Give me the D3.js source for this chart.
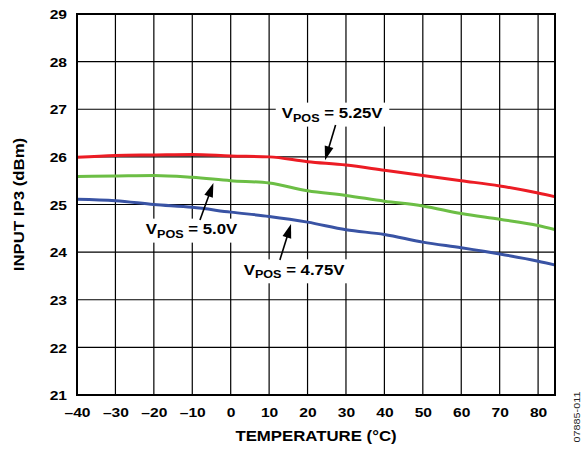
<!DOCTYPE html>
<html><head><meta charset="utf-8">
<script src="https://cdn.jsdelivr.net/npm/d3@7/dist/d3.min.js"></script>
<style>
html,body{margin:0;padding:0;background:#fff;}
svg{display:block;}
text{font-family:"Liberation Sans",Arial,Helvetica,sans-serif;}
</style></head>
<body>
<script>
// ---- data ----
const temps = [-40, -30, -20, -10, 0, 10, 20, 30, 40, 50, 60, 70, 80, 85];
const vpos525 = [25.99, 26.03, 26.04, 26.05, 26.02, 26.00, 25.90, 25.83, 25.72, 25.61, 25.50, 25.39, 25.24, 25.15];
const vpos500 = [25.59, 25.60, 25.61, 25.57, 25.50, 25.45, 25.29, 25.19, 25.07, 24.97, 24.81, 24.69, 24.56, 24.46];
const vpos475 = [25.11, 25.08, 25.00, 24.94, 24.84, 24.75, 24.63, 24.47, 24.37, 24.21, 24.09, 23.96, 23.81, 23.72];
const seriesNames = ["5.25V", "5.0V", "4.75V"];
const xTickValues = [-40, -30, -20, -10, 0, 10, 20, 30, 40, 50, 60, 70, 80];
const xTickLabels = ["–40", "–30", "–20", "–10", "0", "10", "20", "30", "40", "50", "60", "70", "80"];
const yTickValues = [21, 22, 23, 24, 25, 26, 27, 28, 29];
const xTitle = "TEMPERATURE (°C)";
const yTitle = "INPUT IP3 (dBm)";
const figId = "07885-011";

// ---- layout ----
const W = 587, H = 449;
const X0 = 77, X1 = 555, Y0 = 14, Y1 = 395;
const SX = 1.2; // horizontal glyph stretch
const FONT = '"Liberation Sans",Arial,Helvetica,sans-serif';

const x = d3.scaleLinear().domain([-40, 84.4]).range([X0, X1]);
const y = d3.scaleLinear().domain([21, 29]).range([Y1, Y0]);

const svg = d3.select("body").append("svg").attr("width", W).attr("height", H);

// clip
svg.append("defs").append("clipPath").attr("id", "plot")
  .append("rect").attr("x", X0).attr("y", Y0).attr("width", X1 - X0).attr("height", Y1 - Y0);

// grid
const grid = svg.append("g").attr("stroke", "#000").attr("stroke-width", 1.2);
grid.selectAll("line.v").data(xTickValues.filter(d => d > -40)).join("line")
  .attr("x1", d => x(d)).attr("x2", d => x(d)).attr("y1", Y0).attr("y2", Y1);
grid.selectAll("line.h").data(yTickValues.filter(d => d > 21 && d < 29)).join("line")
  .attr("x1", X0).attr("x2", X1).attr("y1", d => y(d)).attr("y2", d => y(d));

// series
const series = [
  {name: seriesNames[0], vals: vpos525, color: "#ec1c24"},
  {name: seriesNames[1], vals: vpos500, color: "#6cbe45"},
  {name: seriesNames[2], vals: vpos475, color: "#3953a4"}
];
const line = d3.line().x(d => x(d[0])).y(d => y(d[1])).curve(d3.curveMonotoneX);
svg.append("g").attr("clip-path", "url(#plot)")
  .selectAll("path").data(series).join("path")
  .attr("fill", "none").attr("stroke", d => d.color).attr("stroke-width", 3)
  .attr("stroke-linejoin", "round")
  .attr("d", d => line(temps.map((t, i) => [t, d.vals[i]])));

// frame
svg.append("rect").attr("x", X0).attr("y", Y0).attr("width", X1 - X0).attr("height", Y1 - Y0)
  .attr("fill", "none").attr("stroke", "#000").attr("stroke-width", 2);

// x axis
const gx = svg.append("g").attr("transform", `translate(0,${Y1})`)
  .call(d3.axisBottom(x).tickValues(xTickValues).tickSize(0).tickFormat((d, i) => xTickLabels[i]));
gx.select(".domain").remove();
gx.selectAll("text").attr("y", 0).attr("dy", 0)
  .attr("transform", `translate(0,22) scale(${SX},1)`)
  .attr("font-size", 13).attr("font-weight", "bold").attr("fill", "#000").attr("font-family", FONT);

// y axis
const gy = svg.append("g").attr("transform", `translate(${X0},0)`)
  .call(d3.axisLeft(y).tickValues(yTickValues).tickSize(0).tickFormat(d3.format("d")));
gy.select(".domain").remove();
gy.selectAll("text").attr("x", 0).attr("dy", "0.36em")
  .attr("transform", `translate(-10,0) scale(${SX},1)`)
  .attr("font-size", 13).attr("font-weight", "bold").attr("fill", "#000").attr("font-family", FONT);

// titles
svg.append("text").attr("transform", `translate(${(X0 + X1) / 2},441) scale(${SX},1)`)
  .attr("text-anchor", "middle").attr("font-size", 14).attr("font-weight", "bold").text(xTitle);
svg.append("text").attr("transform", `translate(23.5,${(Y0 + Y1) / 2}) rotate(-90) scale(${SX},1)`)
  .attr("text-anchor", "middle").attr("font-size", 14).attr("font-weight", "bold").text(yTitle);
svg.append("text").attr("transform", `translate(580,417) rotate(-90) scale(${SX},1)`)
  .attr("text-anchor", "middle").attr("font-size", 9).attr("fill", "#222").text(figId);

// annotations (anchors in data units)
const notes = [
  {label: seriesNames[0], at: [26.4, 26.81], tail: [27.3, 26.67], tip: [24.55, 25.93]},
  {label: seriesNames[1], at: [-10.2, 24.374], tail: [-8.0, 24.675], tip: [-4.5, 25.45]},
  {label: seriesNames[2], at: [16.5, 23.52], tail: [12.8, 23.835], tip: [15.7, 24.59]}
];
notes.forEach(n => {
  const g = svg.append("g").attr("transform", `translate(${x(n.at[0])},${y(n.at[1])}) scale(${SX},1)`);
  const rect = g.append("rect").attr("fill", "#fff");
  const t = g.append("text").attr("text-anchor", "middle").attr("font-weight", "bold")
    .attr("font-size", 14).attr("fill", "#000");
  t.append("tspan").text("V");
  t.append("tspan").attr("font-size", 10.5).attr("dy", 3.5).text("POS");
  t.append("tspan").attr("dy", -3.5).text(" = " + n.label);
  const bb = t.node().getBBox();
  rect.attr("x", bb.x - 5).attr("y", bb.y - 3).attr("width", bb.width + 10).attr("height", bb.height + 6);

  const x1 = x(n.tail[0]), y1 = y(n.tail[1]), x2 = x(n.tip[0]), y2 = y(n.tip[1]);
  const dx = x2 - x1, dy = y2 - y1, L = Math.hypot(dx, dy), ux = dx / L, uy = dy / L;
  const hl = 14, hw = 4.5;
  const bx = x2 - ux * hl, by = y2 - uy * hl;
  svg.append("line").attr("x1", x1).attr("y1", y1).attr("x2", bx + ux * 2).attr("y2", by + uy * 2)
    .attr("stroke", "#000").attr("stroke-width", 1.6);
  svg.append("path").attr("fill", "#000")
    .attr("d", `M${x2},${y2}L${bx - uy * hw},${by + ux * hw}L${bx + uy * hw},${by - ux * hw}Z`);
});
</script>
</body></html>
